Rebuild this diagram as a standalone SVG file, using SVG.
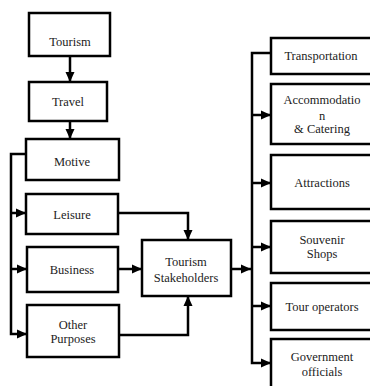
<svg xmlns="http://www.w3.org/2000/svg" width="370" height="386" viewBox="0 0 370 386">
<style>
.box{fill:#fff;stroke:#000;stroke-width:2.5}
.t{font-family:'Liberation Serif','DejaVu Serif',serif;font-size:12.5px;fill:#222;text-anchor:middle}
.c{fill:none;stroke:#000;stroke-width:2.5}
</style>
<defs>
<marker id="ah" markerUnits="userSpaceOnUse" markerWidth="10" markerHeight="10" viewBox="0 0 10 10" refX="10" refY="5" orient="auto">
<path d="M0,0.5 L10,5 L0,9.5 Z" fill="#000"/>
</marker>
</defs>
<rect width="370" height="386" fill="#fff"/>
<g id="connectors">
<path class="c" d="M70,56 V82" marker-end="url(#ah)"/>
<path class="c" d="M70,120 V139" marker-end="url(#ah)"/>
<path class="c" d="M26,154 H11 V334 H27" marker-end="url(#ah)"/>
<path class="c" d="M11,213 H26" marker-end="url(#ah)"/>
<path class="c" d="M11,269 H27" marker-end="url(#ah)"/>
<path class="c" d="M118,213 H188 V240" marker-end="url(#ah)"/>
<path class="c" d="M118,269 H142" marker-end="url(#ah)"/>
<path class="c" d="M119,335 H188 V296" marker-end="url(#ah)"/>
<path class="c" d="M231,269 H251" marker-end="url(#ah)"/>
<path class="c" d="M271,53 H252 V363 H271" marker-end="url(#ah)"/>
<path class="c" d="M252,115 H271" marker-end="url(#ah)"/>
<path class="c" d="M252,183 H271" marker-end="url(#ah)"/>
<path class="c" d="M252,247 H271" marker-end="url(#ah)"/>
<path class="c" d="M252,306 H271" marker-end="url(#ah)"/>
</g>
<g id="tourism"><rect class="box" x="29" y="13" width="81" height="43"/><text class="t" x="70" y="46">Tourism</text></g>
<g id="travel"><rect class="box" x="29" y="82" width="78" height="39"/><text class="t" x="68" y="106">Travel</text></g>
<g id="motive"><rect class="box" x="26" y="139" width="93" height="41"/><text class="t" x="72" y="166">Motive</text></g>
<g id="leisure"><rect class="box" x="26" y="194" width="92" height="40"/><text class="t" x="72" y="219">Leisure</text></g>
<g id="business"><rect class="box" x="27" y="247" width="91" height="45"/><text class="t" x="72" y="274">Business</text></g>
<g id="other"><rect class="box" x="27" y="305" width="92" height="52"/><text class="t" x="73" y="329">Other</text><text class="t" x="73" y="343">Purposes</text></g>
<g id="stakeholders"><rect class="box" x="142" y="240" width="89" height="56"/><text class="t" x="186" y="266">Tourism</text><text class="t" x="186" y="282">Stakeholders</text></g>
<g id="transportation"><rect class="box" x="271" y="38" width="102" height="36"/><text class="t" x="321" y="60">Transportation</text></g>
<g id="accommodation"><rect class="box" x="271" y="84" width="102" height="60"/><text class="t" x="322" y="104">Accommodatio</text><text class="t" x="322" y="120">n</text><text class="t" x="322" y="133">&amp; Catering</text></g>
<g id="attractions"><rect class="box" x="271" y="155" width="102" height="54"/><text class="t" x="322" y="187">Attractions</text></g>
<g id="souvenir"><rect class="box" x="271" y="221" width="102" height="52"/><text class="t" x="322" y="244">Souvenir</text><text class="t" x="322" y="258">Shops</text></g>
<g id="tour-operators"><rect class="box" x="271" y="283" width="102" height="47"/><text class="t" x="322" y="311">Tour operators</text></g>
<g id="government"><rect class="box" x="271" y="339" width="102" height="52"/><text class="t" x="322" y="361">Government</text><text class="t" x="322" y="376">officials</text></g>
</svg>
